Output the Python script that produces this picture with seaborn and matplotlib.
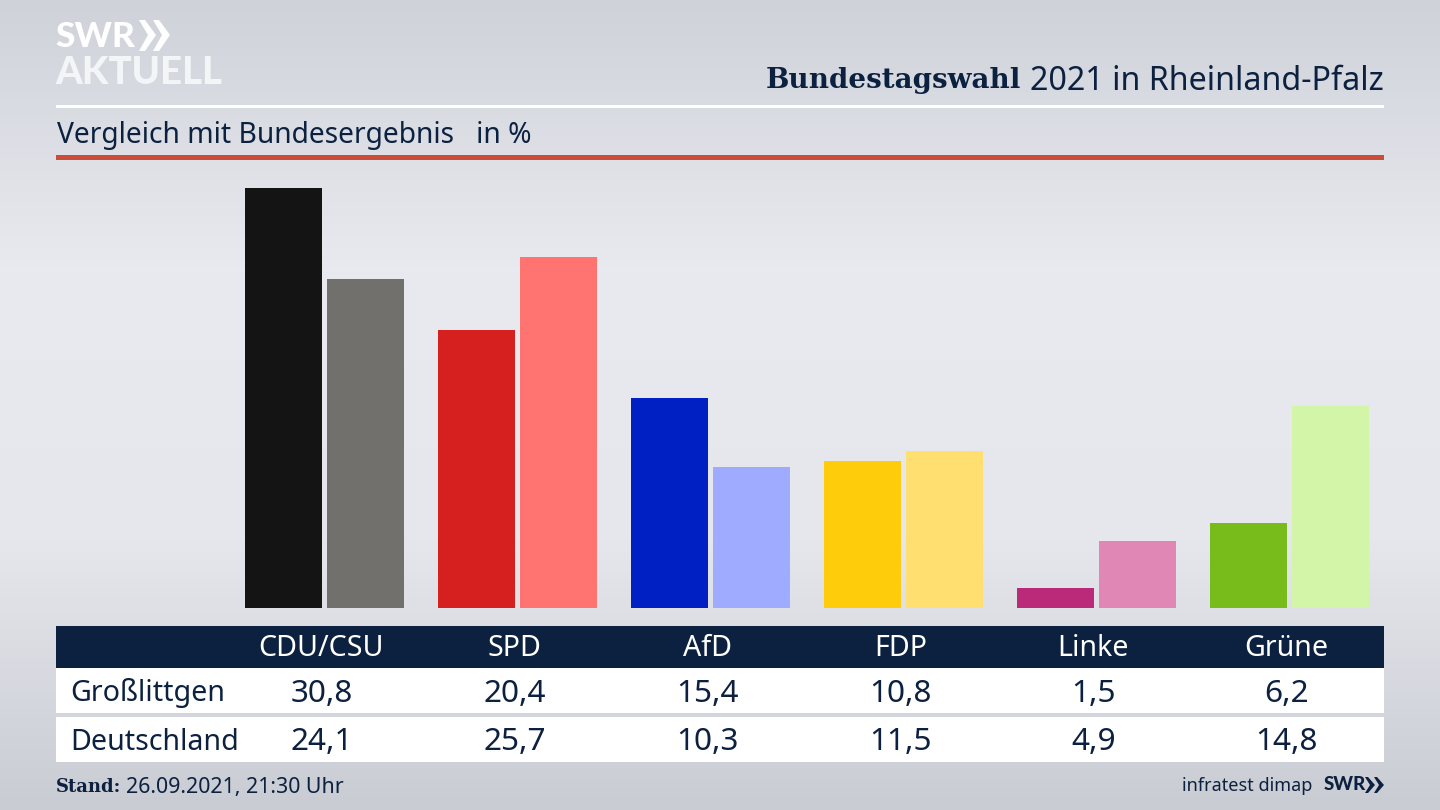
import numpy as np
import pandas as pd
import matplotlib
matplotlib.use("Agg")
import matplotlib.pyplot as plt
from matplotlib.colors import LinearSegmentedColormap
from matplotlib.patches import Polygon, Rectangle
import seaborn as sns

# data
parties = ["CDU/CSU", "SPD", "AfD", "FDP", "Linke", "Grüne"]
grosslittgen = [30.8, 20.4, 15.4, 10.8, 1.5, 6.2]
deutschland = [24.1, 25.7, 10.3, 11.5, 4.9, 14.8]
colors_local = ["#141414", "#d6201f", "#0020c4", "#ffcc0c", "#bb2a78", "#78bc1c"]
colors_national = ["#72706c", "#ff7370", "#9fabff", "#ffdf70", "#e087b5", "#d2f5a8"]

sns.set_theme(style="white")
plt.rcParams["font.family"] = ["Noto Sans", "DejaVu Sans"]

NAVY = "#0c2140"
fig = plt.figure(figsize=(14.4, 8.1), dpi=100)

# background in pixel coordinates
bg = fig.add_axes([0, 0, 1, 1], zorder=0)
cmap = LinearSegmentedColormap.from_list("bg", ["#cfd2d9", "#e9eaf0", "#e6e7ed", "#c9ccd3"])
grad = np.linspace(0, 1, 256)[:, None]
bg.imshow(grad, cmap=cmap, aspect="auto", extent=[0, 1440, 810, 0])
bg.set_xlim(0, 1440)
bg.set_ylim(810, 0)
bg.axis("off")

# rules
bg.add_patch(Rectangle((56, 105), 1328, 2.5, color="white", lw=0))
bg.add_patch(Rectangle((56, 155), 1328, 5, color="#cc4c3a", lw=0))

# table
bg.add_patch(Rectangle((56, 626), 1328, 42, color=NAVY, lw=0))
bg.add_patch(Rectangle((56, 668), 1328, 45, color="white", lw=0))
bg.add_patch(Rectangle((56, 717), 1328, 45, color="white", lw=0))

# logo
bg.text(55, 37, "SWR", color="white", fontsize=25.5, family="Lato", fontweight="black", va="center", ha="left")
bg.text(55, 73, "AKTUELL", color="#f4f5f7", fontsize=27.5, family="Lato", fontweight="black", va="center", ha="left")
for x0 in (139, 153):
    bg.add_patch(Polygon([(x0, 20), (x0 + 6, 20), (x0 + 17, 35), (x0 + 6, 51), (x0, 51), (x0 + 9, 35)],
                         color="white", lw=0))

# header text
title = bg.text(1384, 81, "2021 in Rheinland-Pfalz", color=NAVY, fontsize=23.2, ha="right", va="center")
fig.canvas.draw()
box = title.get_window_extent()
bg.text(box.x0 - 9, 81, "Bundestagswahl", color=NAVY, fontsize=20, family="DejaVu Serif", fontweight="bold",
        ha="right", va="center")
bg.text(57, 135, "Vergleich mit Bundesergebnis   in %", color=NAVY, fontsize=20.3, ha="left", va="center")

# bars
df = pd.DataFrame({
    "Partei": parties * 2,
    "Gebiet": ["Großlittgen"] * 6 + ["Deutschland"] * 6,
    "Wert": grosslittgen + deutschland,
})
ax = fig.add_axes([56 / 1440, (810 - 608) / 810, 1328 / 1440, 448 / 810], zorder=1)
ax.patch.set_alpha(0)
sns.barplot(data=df, x="Partei", y="Wert", hue="Gebiet", order=parties, width=0.85, gap=0.06,
            legend=False, ax=ax, saturation=1, linewidth=0, edgecolor="none")
for cont, cols in zip(ax.containers, (colors_local, colors_national)):
    for bar, col in zip(cont, cols):
        bar.set_facecolor(col)
        bar.set_edgecolor("none")
ax.set_xlim((56 - 324.8) / 193, (1384 - 324.8) / 193)
ax.set_ylim(0, 448 / 13.65)
ax.axis("off")

# table text
centers = [324.5 + 193 * i for i in range(len(parties))]
for cx, p, a, b in zip(centers, parties, grosslittgen, deutschland):
    cx = cx - 3
    bg.text(cx, 649, p, color="white", fontsize=20.6, ha="center", va="center")
    bg.text(cx, 693.5, f"{a:.1f}".replace(".", ","), color=NAVY, fontsize=22.7, ha="center", va="center")
    bg.text(cx, 742.5, f"{b:.1f}".replace(".", ","), color=NAVY, fontsize=22.7, ha="center", va="center")
bg.text(70, 693, "Großlittgen", color=NAVY, fontsize=20.6, ha="left", va="center")
bg.text(70, 742, "Deutschland", color=NAVY, fontsize=20.6, ha="left", va="center")

# footer
bg.text(56, 787, "Stand:", color=NAVY, fontsize=13, family="DejaVu Serif", fontweight="bold", ha="left", va="center")
bg.text(126, 787, "26.09.2021, 21:30 Uhr", color=NAVY, fontsize=15.4, ha="left", va="center")
bg.text(1312, 786, "infratest dimap", color=NAVY, fontsize=13, ha="right", va="center")
bg.text(1324, 785, "SWR", color=NAVY, fontsize=13.5, family="Lato", fontweight="black", ha="left", va="center")
for x0 in (1365, 1374):
    bg.add_patch(Polygon([(x0, 777), (x0 + 3, 777), (x0 + 10, 785), (x0 + 3, 793), (x0, 793), (x0 + 5, 785)],
                         color=NAVY, lw=0))

fig.savefig("out.png", dpi=100)
